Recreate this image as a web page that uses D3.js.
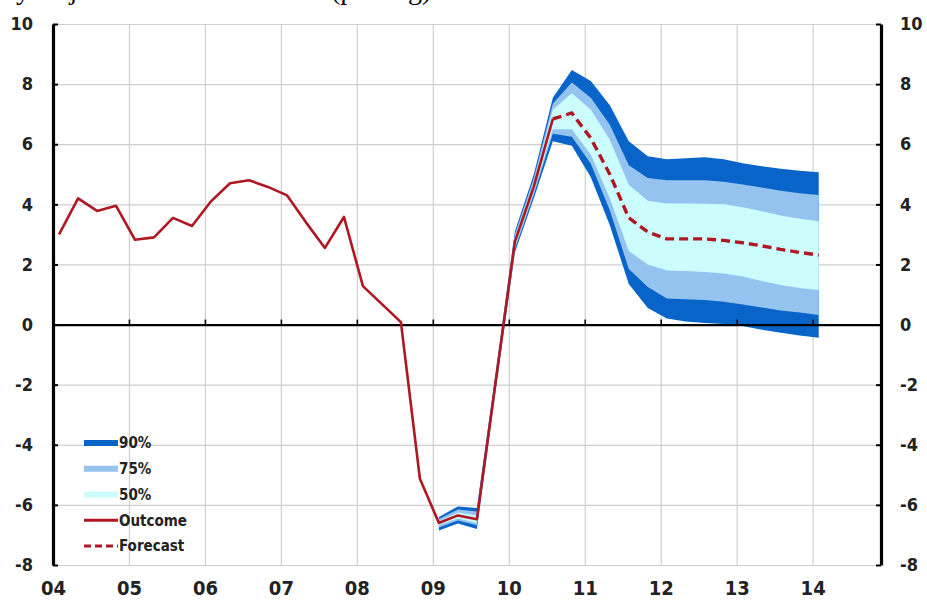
<!DOCTYPE html>
<html><head><meta charset="utf-8">
<script src="https://cdn.jsdelivr.net/npm/d3@7/dist/d3.min.js"></script>
<style>
body{margin:0;background:#fff;}
svg{display:block;}
.lab{font-family:"DejaVu Sans Condensed","Liberation Sans Narrow","DejaVu Sans",sans-serif;font-stretch:condensed;font-weight:bold;fill:#222;}
</style></head><body>
<svg id="c" width="927" height="601"></svg>
<script>
// ---- data ----
const yTicks = [-8,-6,-4,-2,0,2,4,6,8,10];
const xYears = [2004,2005,2006,2007,2008,2009,2010,2011,2012,2013,2014];
const xTickLabels = ["04","05","06","07","08","09","10","11","12","13","14"];

// Outcome, quarterly from 2004Q1 to 2010Q3
const outcomeStart = [2004,1];
const outcome = [3.0,4.2,3.78,3.95, 2.82,2.9,3.55,3.28, 4.1,4.7,4.8,4.58, 4.3,3.4,2.55,3.58,
                 1.28,0.68,0.08,-5.13, -6.6,-6.35,-6.48,-1.85, 2.75,4.6,6.84];
// Forecast, quarterly from 2010Q3 to 2014Q1
const forecastStart = [2010,3];
const forecast = [6.84,7.04,6.2,5.0,3.55,3.08,2.85,2.85,2.85,2.8,2.72,2.62,2.5,2.4,2.31];
// Uncertainty bands, quarterly from 2009Q1 to 2014Q1
const bandStart = [2009,1];
const upper90 = [-6.4,-6.05,-6.1,-1.55,3.1,5.0,7.55,8.47,8.1,7.3,6.1,5.6,5.5,5.53,5.57,5.5,5.37,5.27,5.18,5.12,5.07];
const upper75 = [-6.47,-6.15,-6.22,-1.65,3.0,4.88,7.35,8.05,7.55,6.65,5.3,4.88,4.8,4.8,4.8,4.75,4.66,4.56,4.45,4.37,4.31];
const upper50 = [-6.55,-6.25,-6.35,-1.75,2.9,4.75,7.15,7.7,7.15,6.15,4.65,4.12,4.03,4.03,4.02,4.0,3.9,3.77,3.63,3.52,3.44];
const lower50 = [-6.68,-6.45,-6.6,-1.95,2.6,4.45,6.5,6.5,5.65,4.2,2.45,2.0,1.8,1.78,1.75,1.7,1.6,1.45,1.32,1.22,1.15];
const lower75 = [-6.75,-6.52,-6.68,-2.05,2.5,4.32,6.35,6.25,5.35,3.8,1.85,1.25,0.87,0.84,0.82,0.76,0.67,0.57,0.47,0.4,0.32];
const lower90 = [-6.85,-6.62,-6.8,-2.15,2.4,4.2,6.1,5.95,4.9,3.3,1.35,0.55,0.2,0.1,0.05,0.02,-0.05,-0.17,-0.27,-0.36,-0.44];

const legendItems = ["90%","75%","50%","Outcome","Forecast"];
const titleParts = ["y adjusted annual data", "(pct chg)"];

// ---- style ----
const C = {dark:"#0864c8", mid:"#94c3f0", light:"#ccfdfd", red:"#ad1822", grid:"#cfcfcf"};

const svg = d3.select("#c");
const x = d3.scaleLinear().domain([2004, 2014.9]).range([53, 881]);
const y = d3.scaleLinear().domain([-8, 10]).range([565, 24]);
const tq = (start, i) => start[0] + (start[1]-1+i)*0.25 + 0.08;

// cropped title line (only its descenders show, as in the reference)
const tt = svg.append("text").attr("y",-1)
  .attr("font-family","Liberation Serif, DejaVu Serif, serif").attr("font-size",28)
  .attr("letter-spacing",1.5).attr("fill","#000");
tt.append("tspan").attr("x",16).text(titleParts[0]);
tt.append("tspan").attr("x",331).attr("letter-spacing",0).text(titleParts[1]);

// grid
const gy = svg.append("g").attr("transform","translate(53,0)")
  .call(d3.axisRight(y).tickValues(yTicks).tickSize(828).tickFormat(""));
gy.select(".domain").remove();
gy.selectAll("line").attr("stroke",C.grid).attr("stroke-width",1.2);
const gx = svg.append("g").attr("transform","translate(0,565)")
  .call(d3.axisTop(x).tickValues(xYears.slice(1)).tickSize(541).tickFormat(""));
gx.select(".domain").remove();
gx.selectAll("line").attr("stroke",C.grid).attr("stroke-width",1.2);

// bands
const bandData = upper90.map((v,i)=>({t:tq(bandStart,i),u90:v,u75:upper75[i],u50:upper50[i],l50:lower50[i],l75:lower75[i],l90:lower90[i]}));
const area = (lo,hi)=>d3.area().x(d=>x(d.t)).y0(d=>y(d[lo])).y1(d=>y(d[hi]));
svg.append("path").attr("fill",C.dark).attr("d",area("l90","u90")(bandData));
svg.append("path").attr("fill",C.mid).attr("d",area("l75","u75")(bandData));
svg.append("path").attr("fill",C.light).attr("d",area("l50","u50")(bandData));

// zero axis with year ticks
const zx = svg.append("g").attr("transform",`translate(0,${y(0)})`)
  .call(d3.axisTop(x).tickValues(xYears).tickSize(5).tickSizeOuter(0).tickFormat(""));
zx.select(".domain").attr("stroke","#000").attr("stroke-width",2.2);
zx.selectAll("line").attr("stroke","#000").attr("stroke-width",1.6);

// left/right axes
const la = svg.append("g").attr("transform","translate(53,0)")
  .call(d3.axisRight(y).tickValues(yTicks).tickSize(5).tickSizeOuter(0).tickFormat(""));
la.select(".domain").attr("stroke","#000").attr("stroke-width",3.2);
la.selectAll("line").attr("stroke","#000").attr("stroke-width",2);
const ra = svg.append("g").attr("transform","translate(881,0)")
  .call(d3.axisLeft(y).tickValues(yTicks).tickSize(5).tickSizeOuter(0).tickFormat(""));
ra.select(".domain").attr("stroke","#000").attr("stroke-width",3.2);
ra.selectAll("line").attr("stroke","#000").attr("stroke-width",2);

// tick labels (plain hyphen minus as in the reference)
const fmt = d => String(d);
const ll = svg.append("g").attr("transform","translate(53,0)")
  .call(d3.axisLeft(y).tickValues(yTicks).tickSize(0).tickPadding(20).tickFormat(fmt));
ll.select(".domain").remove();
ll.selectAll("text").attr("class","lab").attr("font-size",18);
const rl = svg.append("g").attr("transform","translate(881,0)")
  .call(d3.axisRight(y).tickValues(yTicks).tickSize(0).tickPadding(19).tickFormat(fmt));
rl.select(".domain").remove();
rl.selectAll("text").attr("class","lab").attr("font-size",18);
const xl = svg.append("g").attr("transform","translate(0,565)")
  .call(d3.axisBottom(x).tickValues(xYears).tickSize(0).tickPadding(16).tickFormat((d,i)=>xTickLabels[i]));
xl.select(".domain").remove();
xl.selectAll("text").attr("class","lab").attr("font-size",20);

// lines
const line = d3.line().x(d=>x(d.t)).y(d=>y(d.v));
const oData = outcome.map((v,i)=>({t:tq(outcomeStart,i),v}));
const fData = forecast.map((v,i)=>({t:tq(forecastStart,i),v}));
svg.append("path").attr("d",line(oData)).attr("fill","none").attr("stroke",C.red).attr("stroke-width",2.6).attr("stroke-linejoin","round");
svg.append("path").attr("d",line(fData)).attr("fill","none").attr("stroke",C.red).attr("stroke-width",3.4).attr("stroke-dasharray","9,5").attr("stroke-linejoin","round");

// legend
const lg = svg.append("g");
const ly = d3.scalePoint().domain(legendItems).range([443,546]);
const sw = {"90%":{c:C.dark,w:6},"75%":{c:C.mid,w:6},"50%":{c:C.light,w:6},"Outcome":{c:C.red,w:3},"Forecast":{c:C.red,w:3,dash:"7,4"}};
legendItems.forEach(k=>{
  const s = sw[k];
  lg.append("line").attr("x1",84).attr("x2",118).attr("y1",ly(k)).attr("y2",ly(k))
    .attr("stroke",s.c).attr("stroke-width",s.w).attr("stroke-dasharray",s.dash||null);
  lg.append("text").attr("class","lab").attr("x",119).attr("y",ly(k)).attr("dy","0.36em")
    .attr("font-size",15).attr("fill","#333").text(k);
});
</script>
</body></html>
